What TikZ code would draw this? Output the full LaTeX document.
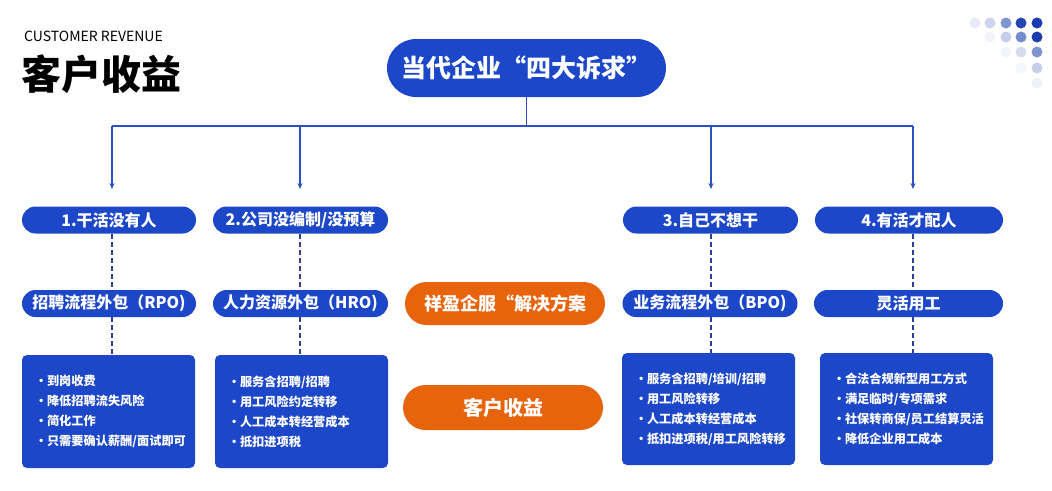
\documentclass[tikz,border=0pt]{standalone}
\usepackage{fontspec}
\setmainfont{Noto Sans CJK SC}[BoldFont={Noto Sans CJK SC Black}]
\usetikzlibrary{arrows.meta}
\definecolor{mainblue}{HTML}{1B47C8}
\definecolor{lineblue}{HTML}{2A50C2}
\definecolor{dashblue}{HTML}{2E3F92}
\definecolor{mainorange}{HTML}{E8640C}
\definecolor{dotblue}{HTML}{1A3CAE}
\begin{document}
\begin{tikzpicture}[x=1pt,y=-1pt,
  pill/.style={rectangle, rounded corners=13.5pt, fill=mainblue, text=white,
    font=\bfseries\fontsize{16}{16}\selectfont, minimum height=27pt, inner sep=0pt},
  opill/.style={rectangle, fill=mainorange, text=white, inner sep=0pt},
  infobox/.style={rectangle, rounded corners=5pt, fill=mainblue, text=white,
    font=\bfseries\fontsize{12.2}{20}\selectfont, align=left, inner xsep=13pt,
    inner ysep=0pt, text width=147pt, minimum height=113pt},
  conn/.style={lineblue, line width=1.5pt},
  arr/.style={lineblue, line width=1.5pt, -{Stealth[length=6pt,width=5pt]}},
  dconn/.style={dashblue, line width=1.2pt, dash pattern=on 5pt off 3pt},
  dotc/.style={circle, inner sep=0pt, minimum size=11pt}
]
\useasboundingbox (0,0) rectangle (1052,490);

% header
\node[anchor=west, inner sep=0pt, font=\fontsize{14}{14}\selectfont] (sub) at (24,36) {CUSTOMER REVENUE};
\node[anchor=west, inner sep=0pt, font=\bfseries\fontsize{40}{40}\selectfont] (title) at (21,74) {客户收益};

% dots
\foreach \x/\y/\p [count=\i] in {975/23/10, 990/23/22, 1006/23/55, 1021/23/95, 1037/23/100,
  990/37/5, 1006/37/25, 1021/37/60, 1037/37/100,
  1006/52/5, 1021/52/18, 1037/52/55,
  1021/68/4, 1037/68/25,
  1037/83/7}
  \node[dotc, fill=dotblue!\p!white] (dot\i) at (\x,\y) {};

% top pill
\node[pill, rounded corners=29pt, minimum width=279pt, minimum height=58pt,
  font=\bfseries\fontsize{25}{25}\selectfont] (top) at (526.5,68) {当代企业“四大诉求”};

% hubs
\coordinate (hub) at (526.5,126);
\coordinate (h1) at (112,126);
\coordinate (h2) at (300,126);
\coordinate (h3) at (711,126);
\coordinate (h4) at (913,126);
\coordinate (e1) at (112,189);
\coordinate (e2) at (300,189);
\coordinate (e3) at (711,189);
\coordinate (e4) at (913,189);

% row 1 pills
\node[pill, minimum width=174pt] (r1) at (109,220) {1.干活没有人};
\node[pill, minimum width=175pt] (r2) at (300.5,220) {2.公司没编制/没预算};
\node[pill, minimum width=175pt] (r3) at (710.5,220) {3.自己不想干};
\node[pill, minimum width=188pt] (r4) at (909,220) {4.有活才配人};

% row 2 pills
\node[pill, minimum width=174pt] (s1) at (109,303.5) {招聘流程外包（RPO)};
\node[pill, minimum width=175pt] (s2) at (300.5,303.5) {人力资源外包（HRO)};
\node[pill, minimum width=175pt] (s3) at (710,303.5) {业务流程外包（BPO)};
\node[pill, minimum width=189pt] (s4) at (908.5,303.5) {灵活用工};

% orange pills
\node[opill, rounded corners=21.5pt, minimum width=200pt, minimum height=43pt,
  font=\bfseries\fontsize{18}{18}\selectfont] (o1) at (505,303.5) {祥盈企服“解决方案};
\node[opill, rounded corners=22.5pt, minimum width=200pt, minimum height=45pt,
  font=\bfseries\fontsize{20}{20}\selectfont] (o2) at (503,407.5) {客户收益};

% boxes
\newcommand{\bitem}[1]{\makebox[12pt][l]{•}#1}
\node[infobox] (b1) at (108.5,411.5) {\bitem{到岗收费}\\\bitem{降低招聘流失风险}\\\bitem{简化工作}\\\bitem{只需要确认薪酬/面试即可}};
\node[infobox] (b2) at (301.5,411.5) {\bitem{服务含招聘/招聘}\\\bitem{用工风险约定转移}\\\bitem{人工成本转经营成本}\\\bitem{抵扣进项税}};
\node[infobox, minimum height=112pt] (b3) at (708.5,409) {\bitem{服务含招聘/培训/招聘}\\\bitem{用工风险转移}\\\bitem{人工成本转经营成本}\\\bitem{抵扣进项税/用工风险转移}};
\node[infobox, minimum height=112pt] (b4) at (906.5,409) {\bitem{合法合规新型用工方式}\\\bitem{满足临时/专项需求}\\\bitem{社保转商保/员工结算灵活}\\\bitem{降低企业用工成本}};

% connectors
\draw[conn] (top.south) -- (hub);
\draw[conn] (h1) -- (h4);
\foreach \i in {1,2,3,4} {
  \draw[arr] (h\i) -- (e\i);
  \draw[dconn] (r\i.south -| h\i) -- (s\i.north -| h\i);
  \draw[dconn] (s\i.south -| h\i) -- (b\i.north -| h\i);
}
\end{tikzpicture}
\end{document}
